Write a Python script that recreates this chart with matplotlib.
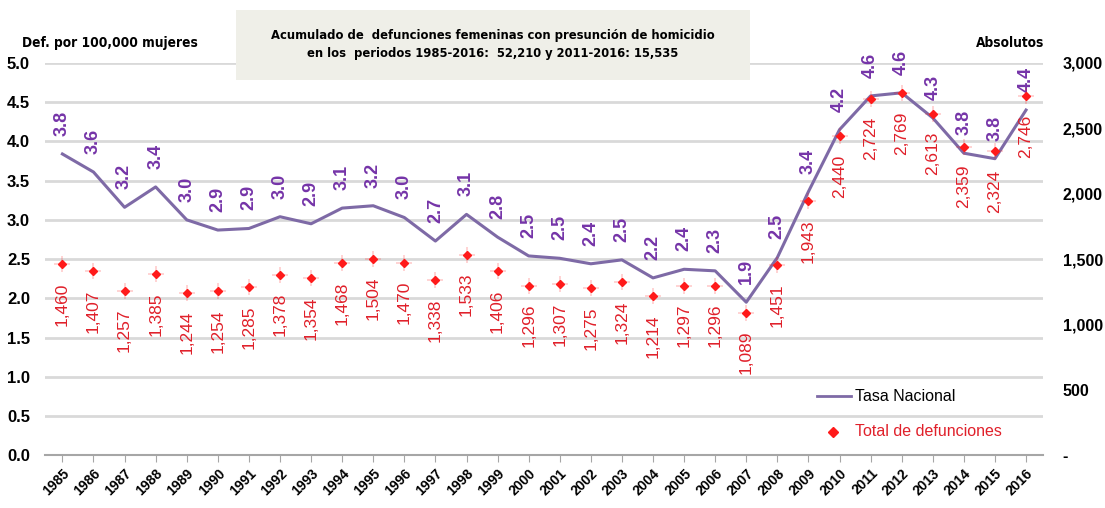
import matplotlib
matplotlib.use("Agg")
import matplotlib.pyplot as plt
from matplotlib import font_manager
import numpy as np

plt.rcParams['font.family'] = ['Liberation Sans', 'DejaVu Sans']

# condensed bold face for the long texts if one is installed
narrow_path = None
for f in font_manager.fontManager.ttflist:
    fn = f.fname.lower()
    if ('condensed' in fn or 'narrow' in fn) and 'bold' in fn and 'oblique' not in fn and 'italic' not in fn:
        narrow_path = f.fname
        break

# ---- data ----
years = [str(y) for y in range(1985, 2017)]
tasa = [3.84, 3.61, 3.16, 3.42, 3.00, 2.87, 2.89, 3.04, 2.95, 3.15,
        3.18, 3.03, 2.73, 3.07, 2.78, 2.54, 2.51, 2.44, 2.49, 2.26,
        2.37, 2.35, 1.95, 2.52, 3.36, 4.15, 4.58, 4.62, 4.30, 3.85,
        3.78, 4.40]
tasa_labels = ["3.8", "3.6", "3.2", "3.4", "3.0", "2.9", "2.9", "3.0", "2.9", "3.1",
               "3.2", "3.0", "2.7", "3.1", "2.8", "2.5", "2.5", "2.4", "2.5", "2.2",
               "2.4", "2.3", "1.9", "2.5", "3.4", "4.2", "4.6", "4.6", "4.3", "3.8",
               "3.8", "4.4"]
totales = [1460, 1407, 1257, 1385, 1244, 1254, 1285, 1378, 1354, 1468,
           1504, 1470, 1338, 1533, 1406, 1296, 1307, 1275, 1324, 1214,
           1297, 1296, 1089, 1451, 1943, 2440, 2724, 2769, 2613, 2359,
           2324, 2746]

purple_line = '#7E6AA6'
purple_txt = '#7534A8'
red = '#FF1A1A'
red_txt = '#E0202A'
grid_c = '#D9D9D9'


def long_font(size):
    if narrow_path:
        return font_manager.FontProperties(fname=narrow_path, size=size)
    return font_manager.FontProperties(family='Liberation Sans', weight='bold', size=size * 0.9)


fig = plt.figure(figsize=(11.05, 5.08), dpi=100)
ax = fig.add_axes([0.041, 0.104, 0.903, 0.772])
ax2 = ax.twinx()

x = np.arange(len(years))

# right axis: totals
ax2.plot(x, totales, linestyle='none', marker='+', markersize=11, color=red, alpha=0.22, mew=1.2)
ax2.plot(x, totales, linestyle='none', marker='D', markersize=4.2, color=red, mec=red)
for xi, v in zip(x, totales):
    ax2.annotate(f"{v:,}", (xi, v), xytext=(0, -13), textcoords='offset points',
                 rotation=90, ha='center', va='top', color=red_txt, fontsize=12.5)

# left axis: rate
ax.plot(x, tasa, color=purple_line, lw=2.2, zorder=3)
for xi, v, s in zip(x, tasa, tasa_labels):
    ax.annotate(s, (xi, v), xytext=(0, 13), textcoords='offset points',
                rotation=90, ha='center', va='bottom', color=purple_txt,
                fontsize=13, fontweight='bold')

ax.set_xlim(-0.55, len(years) - 0.45)
ax.set_ylim(0, 5.0)
ax2.set_ylim(0, 3000)
ax.set_yticks(np.arange(0, 5.01, 0.5))
ax.set_yticklabels([f"{v:.1f}" for v in np.arange(0, 5.01, 0.5)], fontsize=12, fontweight='bold')
ax2.set_yticks(np.arange(0, 3001, 500))
ax2.set_yticklabels(['-'] + [f"{v:,}" for v in range(500, 3001, 500)], fontsize=11.5, fontweight='bold')
ax2.tick_params(axis='y', length=0, pad=14)
ax.tick_params(axis='y', length=0, pad=11)

ax.set_xticks(x)
ax.set_xticklabels(years, rotation=45, ha='right', rotation_mode='anchor', fontsize=10, fontweight='bold')
ax.tick_params(axis='x', length=5, color='#A6A6A6', pad=3)

ax.yaxis.grid(True, color=grid_c, lw=2)
ax.set_axisbelow(True)
for sp in ['top', 'right', 'left']:
    ax.spines[sp].set_visible(False)
    ax2.spines[sp].set_visible(False)
ax.spines['bottom'].set_color('#A6A6A6')
ax.spines['bottom'].set_linewidth(1.5)
ax2.spines['bottom'].set_visible(False)

# axis titles
fig.text(0.02, 0.915, "Def. por 100,000 mujeres", fontproperties=long_font(9.8),
         ha='left', va='center')
fig.text(0.945, 0.915, "Absolutos", fontproperties=long_font(9.8), ha='right', va='center')

# title box
fig.patches.append(matplotlib.patches.Rectangle((0.2135, 0.843), 0.465, 0.137, transform=fig.transFigure,
                                                facecolor='#EFEFE8', edgecolor='none'))
fig.text(0.446, 0.912, "Acumulado de  defunciones femeninas con presunción de homicidio\n"
         "en los  periodos 1985-2016:  52,210 y 2011-2016: 15,535",
         ha='center', va='center', fontproperties=long_font(9.3), linespacing=1.5)

# legend
fig.lines.append(matplotlib.lines.Line2D([0.739, 0.770], [0.220, 0.220], transform=fig.transFigure,
                                         color=purple_line, lw=2))
fig.text(0.774, 0.220, "Tasa Nacional", fontsize=11.5, ha='left', va='center')
fig.lines.append(matplotlib.lines.Line2D([0.754], [0.150], transform=fig.transFigure,
                                         marker='D', markersize=5, color=red, linestyle='none'))
fig.text(0.774, 0.150, "Total de defunciones", fontsize=11.5, ha='left', va='center', color=red_txt)

fig.savefig("out.png", dpi=100)
